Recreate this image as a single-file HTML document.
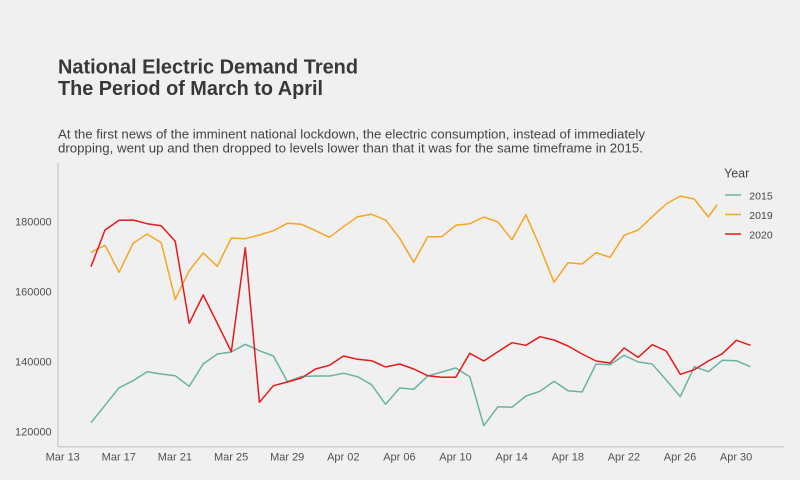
<!DOCTYPE html>
<html>
<head>
<meta charset="utf-8">
<style>
  html,body{margin:0;padding:0;background:#f0f0f0;}
  svg{display:block;}
  text{font-family:"Liberation Sans", Arial, sans-serif;}
</style>
</head>
<body>
<svg width="800" height="480" viewBox="0 0 800 480" xmlns="http://www.w3.org/2000/svg">
  <rect x="0" y="0" width="800" height="480" fill="#f0f0f0"/>

  <!-- Title -->
  <text x="58" y="73.3" font-size="20" font-weight="bold" fill="#383838" textLength="300" lengthAdjust="spacingAndGlyphs">National Electric Demand Trend</text>
  <text x="58" y="95" font-size="20" font-weight="bold" fill="#383838" textLength="265" lengthAdjust="spacingAndGlyphs">The Period of March to April</text>

  <!-- Subtitle -->
  <text x="58" y="138.3" font-size="13" fill="#444" textLength="587" lengthAdjust="spacingAndGlyphs">At the first news of the imminent national lockdown, the electric consumption, instead of immediately</text>
  <text x="58" y="152.3" font-size="13" fill="#444" textLength="585" lengthAdjust="spacingAndGlyphs">dropping, went up and then dropped to levels lower than that it was for the same timeframe in 2015.</text>

  <!-- Axes -->
  <line x1="58" y1="163" x2="58" y2="446.7" stroke="#cfcfcf" stroke-width="1.5"/>
  <line x1="58" y1="446.7" x2="784" y2="446.7" stroke="#cfcfcf" stroke-width="1.5"/>

  <!-- Y tick labels -->
  <g font-size="11" fill="#505050" text-anchor="end">
    <text x="51.7" y="225.3">180000</text>
    <text x="51.7" y="295.3">160000</text>
    <text x="51.7" y="365.3">140000</text>
    <text x="51.7" y="435.3">120000</text>
  </g>

  <!-- X tick labels -->
  <g font-size="11" fill="#505050" text-anchor="middle">
    <text x="62.7" y="460.7">Mar 13</text>
    <text x="118.8" y="460.7">Mar 17</text>
    <text x="174.9" y="460.7">Mar 21</text>
    <text x="231.1" y="460.7">Mar 25</text>
    <text x="287.2" y="460.7">Mar 29</text>
    <text x="343.3" y="460.7">Apr 02</text>
    <text x="399.4" y="460.7">Apr 06</text>
    <text x="455.5" y="460.7">Apr 10</text>
    <text x="511.7" y="460.7">Apr 14</text>
    <text x="567.8" y="460.7">Apr 18</text>
    <text x="623.9" y="460.7">Apr 22</text>
    <text x="680.0" y="460.7">Apr 26</text>
    <text x="736.1" y="460.7">Apr 30</text>
  </g>

  <!-- 2015 -->
  <polyline fill="none" stroke="#69b3a2" stroke-width="1.5" stroke-linejoin="round" points="
    91.0,422.7 105.0,405.3 119.1,387.7 133.1,380.7 147.1,371.7 161.2,374.0 175.2,375.7 189.2,386.3
    203.2,364.0 217.3,354.0 231.3,352.0 245.3,344.3 259.4,350.7 273.4,356.0 287.4,381.7 301.5,376.5
    315.5,376.0 329.5,376.0 343.5,373.3 357.6,376.7 371.6,384.7 385.6,404.3 399.7,388.0 413.7,389.3
    427.7,376.0 441.8,372.0 455.8,368.0 469.8,376.7 483.8,425.7 497.9,406.7 511.9,407.3 525.9,396.0
    540.0,391.3 554.0,381.3 568.0,390.7 582.1,392.0 596.1,364.0 610.1,364.7 624.1,355.3 638.2,362.0
    652.2,364.0 666.2,380.0 680.3,396.7 694.3,366.7 708.3,371.7 722.4,360.3 736.4,360.7 750.4,366.7"/>

  <!-- 2019 -->
  <polyline fill="none" stroke="#f5a623" stroke-width="1.5" stroke-linejoin="round" points="
    91.0,252.3 105.0,245.3 119.1,272.3 133.1,243.3 147.1,234.0 161.2,242.7 175.2,299.3 189.2,270.7
    203.2,253.0 217.3,266.3 231.3,238.0 245.3,238.7 259.4,235.0 273.4,230.7 287.4,223.3 301.5,224.3
    315.5,230.7 329.5,237.3 343.5,226.7 357.6,216.7 371.6,214.3 385.6,220.0 399.7,238.3 413.7,262.3
    427.7,236.7 441.8,236.7 455.8,225.3 469.8,223.7 483.8,217.0 497.9,222.0 511.9,239.7 525.9,214.7
    540.0,247.0 554.0,282.3 568.0,262.7 582.1,264.0 596.1,252.7 610.1,257.3 624.1,235.3 638.2,230.0
    652.2,216.7 666.2,204.0 680.3,196.0 694.3,199.0 708.3,217.0 717.3,204.5"/>

  <!-- 2020 -->
  <polyline fill="none" stroke="#e41a1c" stroke-width="1.5" stroke-linejoin="round" points="
    91.0,266.7 105.0,230.0 119.1,220.3 133.1,220.0 147.1,223.7 161.2,225.7 175.2,241.3 189.2,323.3
    203.2,295.0 217.3,323.3 231.3,351.7 245.3,247.7 259.4,402.3 273.4,385.7 287.4,382.0 301.5,378.0
    315.5,369.0 329.5,365.3 343.5,356.0 357.6,359.3 371.6,360.7 385.6,367.0 399.7,364.0 413.7,369.0
    427.7,375.7 441.8,377.3 455.8,377.3 469.8,353.3 483.8,361.0 497.9,351.7 511.9,342.7 525.9,345.3
    540.0,336.7 554.0,340.0 568.0,346.0 582.1,354.0 596.1,361.0 610.1,363.0 624.1,348.0 638.2,357.3
    652.2,344.7 666.2,351.0 680.3,374.3 694.3,369.7 708.3,361.0 722.4,353.7 736.4,340.3 750.4,345.3"/>

  <!-- Legend -->
  <text x="724" y="177.3" font-size="12.5" fill="#444">Year</text>
  <line x1="725" y1="195" x2="741" y2="195" stroke="#69b3a2" stroke-width="1.5"/>
  <line x1="725" y1="214.5" x2="741" y2="214.5" stroke="#f5a623" stroke-width="1.5"/>
  <line x1="725" y1="234" x2="741" y2="234" stroke="#e41a1c" stroke-width="1.5"/>
  <g font-size="10.5" fill="#444">
    <text x="749.3" y="199.3">2015</text>
    <text x="749.3" y="218.8">2019</text>
    <text x="749.3" y="238.3">2020</text>
  </g>
</svg>
</body>
</html>
